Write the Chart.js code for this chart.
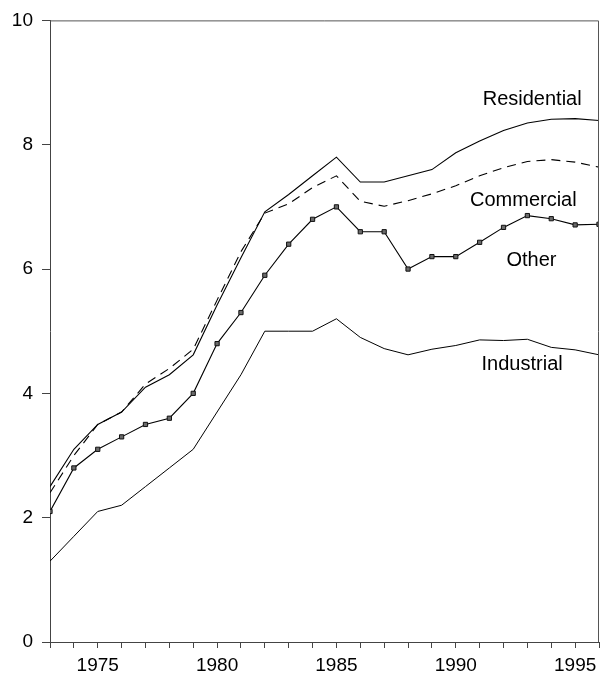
<!DOCTYPE html>
<html>
<head>
<meta charset="utf-8">
<script src="https://cdn.jsdelivr.net/npm/chart.js@4/dist/chart.umd.min.js"></script>
<style>
  html, body { margin: 0; padding: 0; background: #fff; }
  #wrap { width: 605px; height: 675px; position: relative; }
</style>
</head>
<body>
<div id="wrap"><canvas id="c" width="605" height="675"></canvas></div>
<script>
const years = [1973,1974,1975,1976,1977,1978,1979,1980,1981,1982,1983,1984,1985,1986,1987,1988,1989,1990,1991,1992,1993,1994,1995,1996];
const residential = [2.5,3.1,3.5,3.7,4.1,4.3,4.62,5.42,6.18,6.92,7.2,7.5,7.8,7.4,7.4,7.5,7.6,7.87,8.06,8.23,8.35,8.41,8.42,8.39];
const commercial  = [2.4,3.0,3.5,3.7,4.15,4.4,4.71,5.5,6.28,6.9,7.05,7.31,7.5,7.09,7.01,7.1,7.21,7.34,7.5,7.63,7.73,7.76,7.72,7.64];
const other       = [2.1,2.8,3.1,3.3,3.5,3.6,4.0,4.8,5.3,5.9,6.4,6.8,7.0,6.6,6.6,6.0,6.2,6.2,6.43,6.67,6.86,6.81,6.71,6.72];
const industrial  = [1.3,1.7,2.1,2.2,2.5,2.8,3.1,3.7,4.3,5.0,5.0,5.0,5.2,4.9,4.72,4.62,4.71,4.77,4.86,4.85,4.87,4.74,4.7,4.62];
const yTicks = [0,2,4,6,8,10];
const xLabelYears = [1975,1980,1985,1990,1995];

// series label anchors in data units
const seriesNames = ['Residential','Commercial','Other','Industrial'];
const nameYears   = [1993.2, 1992.83, 1993.17, 1992.78];
const nameValues  = [8.72, 7.10, 6.13, 4.46];

const toPts = arr => arr.map((v, i) => ({x: years[i], y: v}));

const frame = {
  id: 'frame',
  afterDraw(chart) {
    const {ctx, chartArea: a, scales} = chart;
    ctx.save();
    ctx.strokeStyle = '#555';
    ctx.lineWidth = 1;
    ctx.beginPath();
    ctx.moveTo(a.left, a.top + 0.5);
    ctx.lineTo(a.right - 0.5, a.top + 0.5);
    ctx.lineTo(a.right - 0.5, a.bottom);
    ctx.stroke();
    ctx.fillStyle = '#000';
    ctx.font = '20px "Liberation Sans", Arial, sans-serif';
    ctx.textAlign = 'center';
    ctx.textBaseline = 'middle';
    seriesNames.forEach((n, i) => {
      ctx.fillText(n, scales.x.getPixelForValue(nameYears[i]), scales.y.getPixelForValue(nameValues[i]));
    });
    ctx.restore();
  }
};

new Chart(document.getElementById('c'), {
  type: 'line',
  data: {
    datasets: [
      { label: 'Residential', data: toPts(residential), borderColor: '#000', borderWidth: 1.1, pointRadius: 0, tension: 0 },
      { label: 'Commercial', data: toPts(commercial), borderColor: '#000', borderWidth: 1.1, borderDash: [9, 6], pointRadius: 0, tension: 0 },
      { label: 'Other', data: toPts(other), borderColor: '#000', borderWidth: 1.1, pointRadius: 3, pointStyle: 'rect',
        pointBackgroundColor: '#6a6a6a', pointBorderColor: '#111', pointBorderWidth: 1, tension: 0 },
      { label: 'Industrial', data: toPts(industrial), borderColor: '#000', borderWidth: 1.0, pointRadius: 0, tension: 0 }
    ]
  },
  options: {
    responsive: false,
    animation: false,
    events: [],
    layout: { padding: { top: 17, right: 2, left: 0, bottom: 0 } },
    plugins: { legend: { display: false }, tooltip: { enabled: false } },
    scales: {
      x: {
        type: 'linear', min: 1973, max: 1996,
        afterFit(s) { s.height = 33; },
        border: { display: true, color: '#444', width: 1 },
        grid: { display: true, drawOnChartArea: false, drawTicks: true, tickLength: 6, color: '#444' },
        ticks: {
          stepSize: 1, autoSkip: false, maxRotation: 0, padding: 6, color: '#000',
          font: { family: '"Liberation Sans", Arial, sans-serif', size: 19 },
          callback: v => xLabelYears.includes(v) ? String(v) : ''
        }
      },
      y: {
        min: 0, max: 10,
        afterFit(s) { s.width = 50; },
        afterBuildTicks(s) { s.ticks = yTicks.map(v => ({value: v})); },
        border: { display: true, color: '#444', width: 1 },
        grid: { display: true, drawOnChartArea: false, drawTicks: true, tickLength: 8, color: '#444' },
        ticks: {
          padding: 9, color: '#000',
          font: { family: '"Liberation Sans", Arial, sans-serif', size: 19 }
        }
      }
    }
  },
  plugins: [frame]
});
</script>
</body>
</html>
